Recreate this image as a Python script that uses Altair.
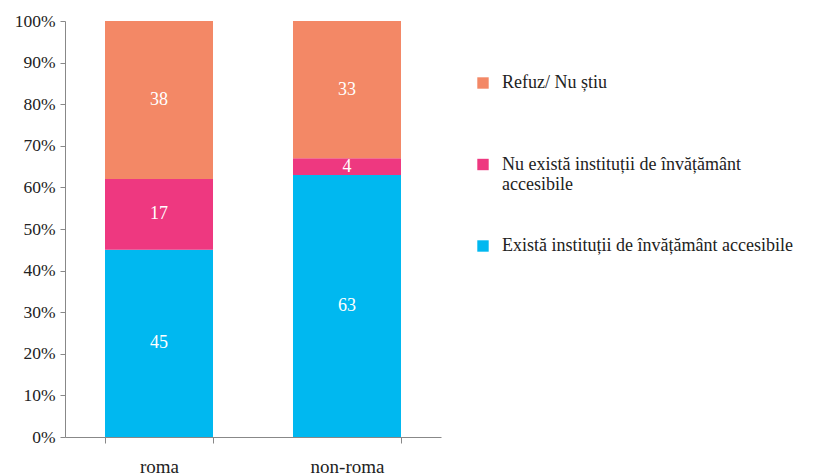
import altair as alt
import pandas as pd

groups = ["roma", "non-roma"]
categories = [
    "Există instituții de învățământ accesibile",
    "Nu există instituții de învățământ accesibile",
    "Refuz/ Nu știu",
]
roma_values = [45, 17, 38]
non_roma_values = [63, 4, 33]
colors = ["#00B8F0", "#EE3880", "#F38866"]
y_ticks = [0, 10, 20, 30, 40, 50, 60, 70, 80, 90, 100]

rows = []
for g, vals in zip(groups, [roma_values, non_roma_values]):
    for i, (c, v) in enumerate(zip(categories, vals)):
        rows.append({"group": g, "category": c, "value": v, "order": i})
df = pd.DataFrame(rows)

FONT = "Liberation Serif"
legend_order = list(reversed(categories))
legend_colors = list(reversed(colors))

base = alt.Chart(df).transform_stack(
    stack="value", groupby=["group"], as_=["y0", "y1"], sort=[alt.SortField("order")]
).transform_calculate(mid="(datum.y0 + datum.y1) / 2")

x_enc = alt.X(
    "group:N",
    sort=groups,
    title=None,
    scale=alt.Scale(paddingInner=0.4255, paddingOuter=0.2128),
    axis=alt.Axis(
        labelAngle=0,
        labelFont=FONT,
        labelFontSize=19,
        labelColor="#222",
        labelPadding=14,
        tickBand="extent",
        tickSize=6,
        tickColor="#888",
        domainColor="#888",
    ),
)

bars = base.mark_bar().encode(
    x=x_enc,
    y=alt.Y(
        "y0:Q",
        title=None,
        scale=alt.Scale(domain=[0, 100], nice=False),
        axis=alt.Axis(
            values=y_ticks,
            labelExpr="datum.value + '%'",
            labelFont=FONT,
            labelFontSize=17.5,
            labelColor="#222",
            labelPadding=5,
            tickSize=5,
            tickColor="#888",
            domainColor="#888",
            grid=False,
        ),
    ),
    y2="y1:Q",
    color=alt.Color(
        "category:N",
        scale=alt.Scale(domain=legend_order, range=legend_colors),
        legend=alt.Legend(
            title=None,
            orient="none",
            legendX=409,
            legendY=53,
            symbolType="square",
            symbolSize=130,
            symbolStrokeWidth=0,
            labelFont=FONT,
            labelFontSize=18,
            labelColor="#222",
            labelLimit=400,
            labelOffset=10,
            rowPadding=43.5,
            labelExpr="datum.label == 'Nu există instituții de învățământ accesibile' ? ['Nu există instituții de învățământ', 'accesibile'] : [datum.label, ' ']",
        ),
    ),
)

texts = base.mark_text(font=FONT, fontSize=18, color="white").encode(
    x=alt.X("group:N", sort=groups),
    y=alt.Y("mid:Q"),
    text=alt.Text("value:Q"),
)

chart = (
    alt.layer(bars, texts)
    .properties(width=376, height=416, padding={"left": 6, "top": 4, "right": 0, "bottom": 0})
    .configure(font=FONT)
    .configure_view(stroke=None)
)

chart.save("out.html", embed_options={"renderer": "svg", "actions": False})
